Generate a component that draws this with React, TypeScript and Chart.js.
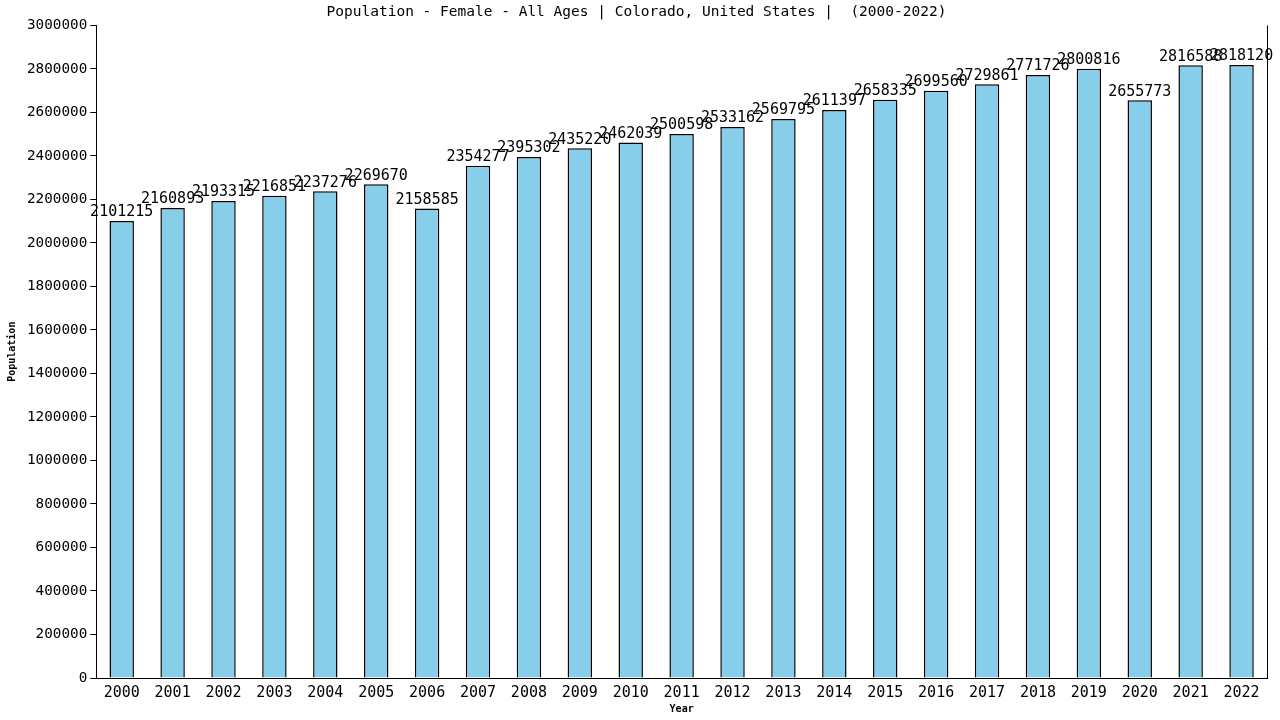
import { useEffect, useRef } from "react";
import { Chart, registerables, Plugin } from "chart.js";

Chart.register(...registerables);

const years = [
  "2000", "2001", "2002", "2003", "2004", "2005", "2006", "2007", "2008", "2009", "2010", "2011",
  "2012", "2013", "2014", "2015", "2016", "2017", "2018", "2019", "2020", "2021", "2022",
];
const population = [
  2101215, 2160893, 2193315, 2216851, 2237276, 2269670, 2158585, 2354277, 2395302, 2435220, 2462039,
  2500598, 2533162, 2569795, 2611397, 2658335, 2699560, 2729861, 2771726, 2800816, 2655773, 2816588,
  2818120,
];

const FONT = "'DejaVu Sans Mono', monospace";

// value labels on top of each bar, plus the right-hand frame line
const barLabels: Plugin<"bar"> = {
  id: "barLabels",
  afterDatasetsDraw(chart) {
    const { ctx, chartArea } = chart;
    const meta = chart.getDatasetMeta(0);
    ctx.save();
    ctx.font = `15px ${FONT}`;
    ctx.fillStyle = "#000";
    ctx.textAlign = "center";
    ctx.textBaseline = "bottom";
    meta.data.forEach((bar, i) => {
      ctx.fillText(String(population[i]), bar.x, bar.y - 1);
    });
    ctx.strokeStyle = "#000";
    ctx.lineWidth = 1;
    ctx.beginPath();
    ctx.moveTo(chartArea.right + 0.5, chartArea.top);
    ctx.lineTo(chartArea.right + 0.5, chartArea.bottom);
    ctx.stroke();
    ctx.restore();
  },
};

export default function App() {
  const canvasRef = useRef<HTMLCanvasElement>(null);
  const chartRef = useRef<Chart<"bar"> | null>(null);

  useEffect(() => {
    if (!canvasRef.current) return;
    if (chartRef.current) chartRef.current.destroy();
    const ctx = canvasRef.current.getContext("2d");
    if (!ctx) return;

    chartRef.current = new Chart(ctx, {
      type: "bar",
      data: {
        labels: years,
        datasets: [
          {
            label: "Population",
            data: population,
            backgroundColor: "#87ceeb",
            borderColor: "#000",
            borderWidth: 1.5,
            barPercentage: 0.96,
            categoryPercentage: 0.5,
          },
        ],
      },
      options: {
        responsive: true,
        maintainAspectRatio: false,
        animation: false,
        layout: { padding: { left: 6, right: 13, top: 0, bottom: 0 } },
        plugins: {
          legend: { display: false },
          tooltip: { enabled: false },
          title: {
            display: true,
            text: "Population - Female - All Ages | Colorado, United States |  (2000-2022)",
            color: "#000",
            font: { family: FONT, size: 14.5, weight: "normal" },
            padding: { top: 4, bottom: 4 },
          },
        },
        scales: {
          x: {
            grid: { display: false },
            border: { display: true, color: "#000", width: 1 },
            ticks: { color: "#000", font: { family: FONT, size: 15, lineHeight: 1 }, padding: 0 },
            title: {
              display: true,
              text: "Year",
              color: "#000",
              font: { family: FONT, size: 10, weight: "bold", lineHeight: 1 },
              padding: { top: 3, bottom: 6 },
            },
          },
          y: {
            min: 0,
            max: 3000000,
            ticks: {
              stepSize: 200000,
              color: "#000",
              font: { family: FONT, size: 14.3 },
              padding: 3,
              callback: (v) => String(v),
            },
            grid: { drawOnChartArea: false, color: "#000", tickLength: 6 },
            border: { display: true, color: "#000", width: 1 },
            title: {
              display: true,
              text: "Population",
              color: "#000",
              font: { family: FONT, size: 10, weight: "bold" },
              padding: { top: 0, bottom: 6 },
            },
          },
        },
      },
      plugins: [barLabels],
    });

    return () => {
      if (chartRef.current) chartRef.current.destroy();
    };
  }, []);

  return (
    <div style={{ position: "fixed", inset: 0, width: 1280, height: 720, background: "#fff" }}>
      <canvas ref={canvasRef} />
    </div>
  );
}
